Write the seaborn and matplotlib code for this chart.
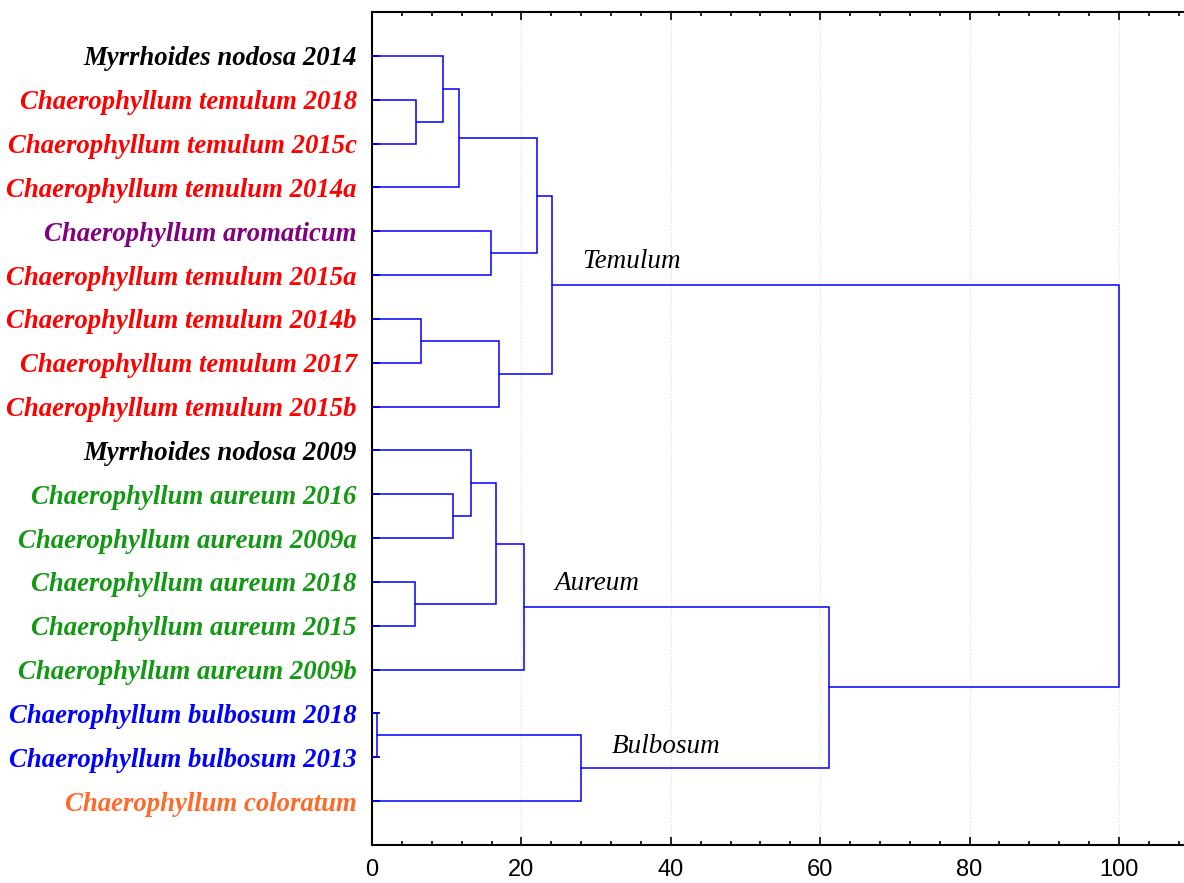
import matplotlib
matplotlib.use("Agg")
import matplotlib.pyplot as plt
import seaborn as sns
import numpy as np
import pandas as pd
from matplotlib.ticker import MultipleLocator

# ---- data ----
leaf_labels = [
    "Myrrhoides nodosa 2014",
    "Chaerophyllum temulum 2018",
    "Chaerophyllum temulum 2015c",
    "Chaerophyllum temulum 2014a",
    "Chaerophyllum aromaticum",
    "Chaerophyllum temulum 2015a",
    "Chaerophyllum temulum 2014b",
    "Chaerophyllum temulum 2017",
    "Chaerophyllum temulum 2015b",
    "Myrrhoides nodosa 2009",
    "Chaerophyllum aureum 2016",
    "Chaerophyllum aureum 2009a",
    "Chaerophyllum aureum 2018",
    "Chaerophyllum aureum 2015",
    "Chaerophyllum aureum 2009b",
    "Chaerophyllum bulbosum 2018",
    "Chaerophyllum bulbosum 2013",
    "Chaerophyllum coloratum",
]
leaf_colors = [
    "#000000", "#ff0000", "#ff0000", "#ff0000", "#800080", "#ff0000",
    "#ff0000", "#ff0000", "#ff0000", "#000000", "#129812", "#129812",
    "#129812", "#129812", "#129812", "#0000ff", "#0000ff", "#ff6a2a",
]
# merges: node ids 0..17 are leaves, new nodes numbered from 18
merge_left = [1, 0, 19, 4, 20, 6, 23, 22, 10, 9, 12, 27, 29, 15, 31, 30, 25]
merge_right = [2, 18, 3, 5, 21, 7, 8, 24, 11, 26, 13, 28, 14, 16, 17, 32, 33]
merge_height = [5.9, 9.5, 11.65, 15.9, 22.1, 6.6, 17.0, 24.1, 10.85, 13.25,
                5.8, 16.6, 20.35, 0.7, 28.0, 61.2, 100.0]
cluster_names = ["Temulum", "Aureum", "Bulbosum"]

# ---- figure ----
sns.set_style("ticks")
plt.rcParams["font.family"] = ["Liberation Sans", "DejaVu Sans"]

fig = plt.figure(figsize=(11.84, 8.83), dpi=100)
ax = fig.add_axes([372 / 1184, 38 / 883, 110 * 7.47 / 1184, 833 / 883])

n = len(leaf_labels)
pos = {i: (0.0, float(i)) for i in range(n)}
line_color = "#0000ff"
for k, (a, b, h) in enumerate(zip(merge_left, merge_right, merge_height)):
    xa, ya = pos[a]
    xb, yb = pos[b]
    ax.plot([xa, h, h, xb], [ya, ya, yb, yb], color=line_color, lw=1.1,
            solid_joinstyle="miter", zorder=3)
    pos[n + k] = (h, (ya + yb) / 2)

ax.set_xlim(0, 110)
ax.set_ylim(n, -1)
ax.set_yticks(range(n))
ax.set_yticklabels(leaf_labels)
for lab, c in zip(ax.get_yticklabels(), leaf_colors):
    lab.set_color(c)
    lab.set_fontfamily(["Liberation Serif", "DejaVu Serif"])
    lab.set_fontstyle("italic")
    lab.set_fontweight("bold")
    lab.set_fontsize(19.3)

ax.xaxis.set_major_locator(MultipleLocator(20))
ax.xaxis.set_minor_locator(MultipleLocator(4))
ax.tick_params(axis="x", which="major", direction="in", length=6, width=1.2,
               top=True, bottom=True, labelsize=17, pad=10, labelcolor="black",
               color="black")
ax.tick_params(axis="x", which="minor", direction="in", length=3, width=1.2,
               top=True, bottom=True, color="black")
ax.tick_params(axis="y", which="major", direction="in", length=6, width=1.2,
               left=True, right=False, pad=11, color="black")
for s in ["left", "top", "bottom"]:
    ax.spines[s].set_linewidth(1.5)
    ax.spines[s].set_color("black")
ax.spines["right"].set_visible(False)
ax.grid(axis="x", which="major", color="#dddddd", linestyle=":", lw=0.8)
ax.set_axisbelow(True)

label_font = dict(family=["Liberation Serif", "DejaVu Serif"], style="italic",
                  fontsize=19.5, color="black", va="center", ha="left")
ax.text(28.2, 4.7, cluster_names[0], **label_font)
ax.text(24.4, 12.03, cluster_names[1], **label_font)
ax.text(32.1, 15.75, cluster_names[2], **label_font)

fig.savefig("out.png", dpi=100)
